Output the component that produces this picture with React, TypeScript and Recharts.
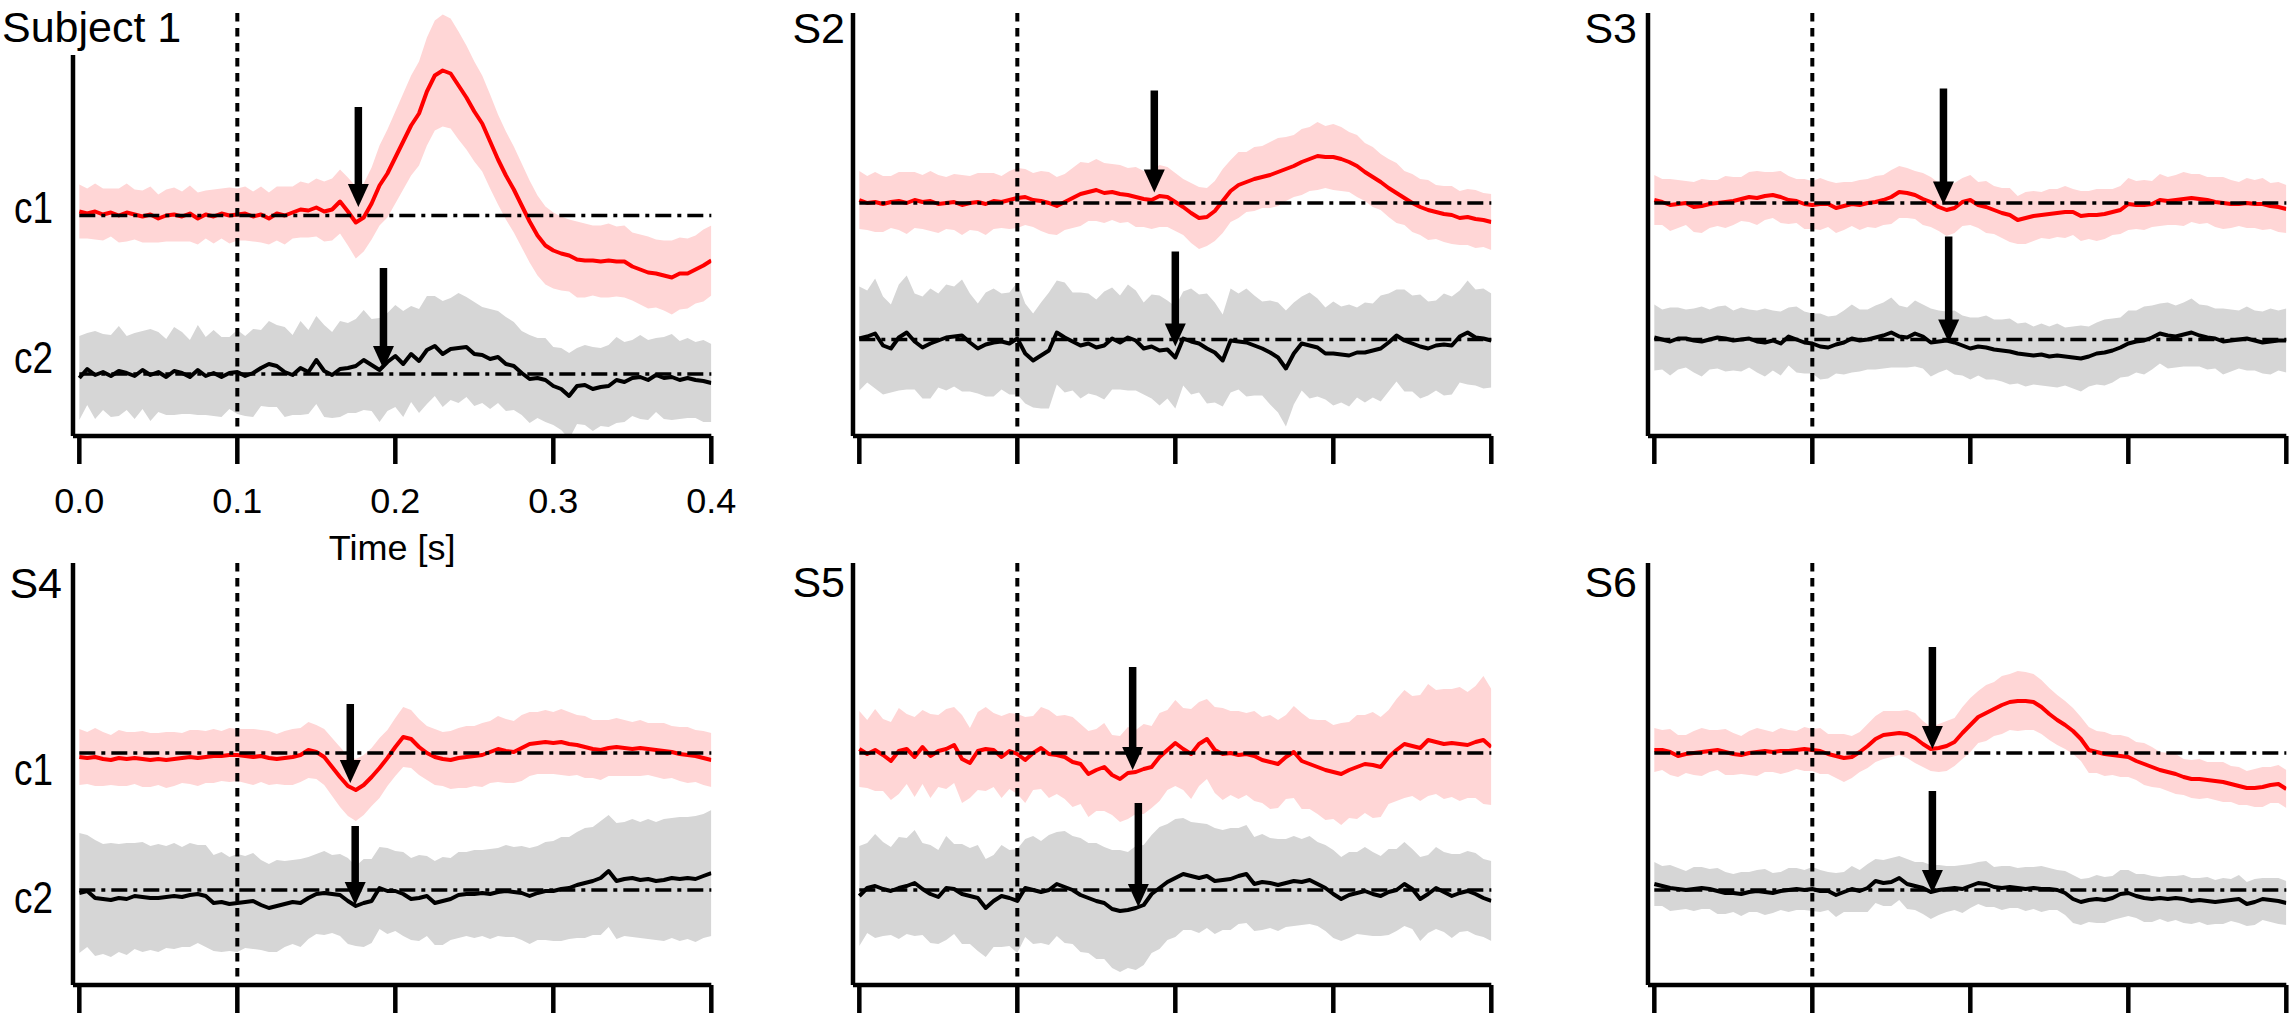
import React from "react";
import { ComposedChart, Area, Line, XAxis, YAxis, ReferenceLine } from "recharts";

const FONT = '"Liberation Sans", Arial, Helvetica, sans-serif';

// time grid: 0 .. 0.4 s, one sample every 5 ms
const STEP = 0.005;
const TIME_TICKS = [0, 0.1, 0.2, 0.3, 0.4];
const X_DOMAIN = [-0.004, 0.4];
const STIM_ONSET = 0.1;

// deviations (a.u.) of each mean trace from its own baseline, and the half-width of its shaded band
const s1c1 = [
  4, 2, 4, 1, 3, 0, 3, 1, -1, 1,
  -3, 0, 1, -1, 2, -3, 1, -1, 2, 0,
  1, 2, -1, 1, -3, 2, 0, 3, 6, 5,
  8, 4, 6, 14, 4, -7, -2, 12, 30, 42,
  58, 74, 90, 102, 124, 140, 145, 142, 130, 118,
  104, 92, 74, 56, 40, 26, 10, -6, -20, -30,
  -35, -38, -40, -44, -45, -45, -46, -45, -46, -46,
  -51, -54, -57, -58, -60, -62, -58, -58, -54, -50,
  -45,
];
const s1c1sd = [
  27, 25, 28, 26, 24, 27, 29, 25, 26, 28,
  24, 26, 27, 25, 28, 26, 24, 27, 25, 28,
  26, 27, 25, 28, 26, 27, 29, 26, 28, 27,
  29, 30, 31, 32, 34, 36, 34, 36, 40, 44,
  46, 48, 50, 52, 54, 55, 56, 55, 54, 52,
  50, 48, 47, 45, 44, 43, 42, 41, 40, 39,
  38, 37, 36, 38, 37, 35, 36, 37, 35, 36,
  34, 35, 36, 34, 35, 37, 36, 35, 34, 36,
  35,
];
const s1c2 = [
  -4, 5, -1, 2, -2, 3, 1, -2, 4, -1,
  2, -3, 3, 1, -3, 4, -2, 1, -3, 1,
  2, -2, 1, 6, 10, 8, 2, -1, 6, 2,
  14, 3, -1, 5, 6, 8, 14, 9, 4, 12,
  18, 10, 20, 13, 24, 28, 20, 25, 26, 27,
  20, 19, 15, 17, 10, 8, 1, -5, -4, -6,
  -12, -15, -22, -12, -11, -15, -13, -12, -6, -8,
  -4, -3, -6, -1, -4, -3, -6, -4, -6, -7,
  -9,
];
const s1c2sd = [
  42, 36, 44, 38, 41, 45, 37, 43, 39, 46,
  40, 38, 44, 41, 37, 45, 39, 43, 40, 36,
  42, 40, 44, 38, 43, 41, 45, 40, 47, 42,
  44, 46, 43, 48, 45, 47, 50, 46, 52, 49,
  51, 53, 48, 52, 54, 50, 53, 51, 55, 50,
  52, 48, 50, 46, 47, 44, 42, 44, 40, 42,
  39, 41, 43, 38, 40, 42, 39, 41, 43, 40,
  38, 42, 40, 37, 41, 43, 39, 40, 38, 41,
  39,
];

const s2c1 = [
  3, 0, 1, -1, 1, 2, 0, 3, 1, 2,
  -1, 0, 1, -2, 0, 1, -1, 2, 1, 3,
  5, 6, 3, 2, 0, -3, 1, 5, 9, 11,
  13, 10, 11, 9, 8, 6, 4, 3, 7, 6,
  1, -4, -10, -15, -14, -8, 2, 12, 18, 21,
  24, 26, 28, 31, 34, 37, 41, 44, 47, 46,
  46, 44, 41, 37, 31, 26, 21, 15, 10, 5,
  0, -4, -7, -9, -11, -12, -15, -14, -16, -17,
  -19,
];
const s2c1sd = [
  29, 27, 30, 28, 26, 29, 31, 28, 27, 30,
  29, 26, 28, 30, 27, 29, 31, 28, 26, 29,
  30, 28, 27, 30, 31, 29, 28, 30, 32, 29,
  31, 30, 28, 29, 27, 30, 28, 29, 31, 30,
  29, 28, 30, 31, 29, 30, 32, 31, 33, 30,
  32, 31, 33, 34, 32, 31, 33, 32, 34, 31,
  33, 32, 30, 31, 29, 30, 28, 29, 30, 27,
  29, 28, 30, 27, 28, 29, 27, 28, 29, 27,
  28,
];
const s2c2 = [
  1, 3, 6, -6, -9, 2, 7, -2, -8, -4,
  -1, 2, 3, 4, -3, -9, -5, -3, -2, -4,
  1, -14, -21, -16, -11, 7, 2, -2, -6, -4,
  -8, -6, 1, -3, 2, -1, -9, -7, -11, -10,
  -18, 1, -2, -4, -9, -13, -21, -1, -2, -3,
  -6, -9, -13, -18, -29, -14, -4, -6, -8, -14,
  -14, -15, -16, -13, -13, -11, -9, -3, 4, -1,
  -4, -7, -9, -6, -5, -6, 3, 7, 2, 1,
  -1,
];
const s2c2sd = [
  52, 46, 55, 49, 44, 53, 57, 48, 51, 55,
  47, 53, 50, 56, 49, 45, 52, 54, 48, 51,
  56, 50, 47, 53, 58, 52, 55, 49, 53, 50,
  48, 54, 51, 47, 53, 50, 46, 52, 55, 49,
  51, 47, 53, 49, 55, 50, 46, 52, 48, 54,
  50, 47, 52, 55, 58, 51, 47, 53, 49, 46,
  52, 48, 51, 45, 50, 47, 53, 49, 46, 51,
  48, 52, 47, 45, 51, 49, 46, 52, 48, 50,
  47,
];

const s3c1 = [
  3, 1, -2, -1, 0, -4, -3, -1, 0, 1,
  2, 4, 6, 5, 7, 8, 6, 3, 2, -1,
  -2, -1, -1, -5, -3, -1, -2, 0, 1, 3,
  6, 11, 10, 8, 4, 1, -4, -7, -5, 1,
  3, -2, -4, -7, -10, -12, -17, -15, -13, -12,
  -11, -10, -9, -9, -13, -12, -12, -11, -9, -7,
  -1, -2, -2, -1, 3, 2, 3, 4, 5, 4,
  3, 1, 0, -1, -1, 0, -1, -1, -3, -4,
  -6,
];
const s3c1sd = [
  25, 23, 26, 24, 22, 25, 27, 24, 23, 26,
  24, 22, 25, 27, 24, 23, 26, 24, 22, 25,
  24, 26, 23, 25, 24, 22, 25, 24, 26, 25,
  27, 26, 25, 24, 26, 25, 24, 26, 25, 24,
  25, 23, 26, 24, 25, 27, 24, 26, 25, 23,
  25, 24, 26, 23, 25, 24, 26, 25, 23, 24,
  26, 24, 25, 23, 26, 24, 25, 27, 24, 25,
  23, 25, 26, 24, 22, 25, 24, 26, 23, 25,
  24,
];
const s3c2 = [
  2, 0, -2, 1, 1, -1, -2, 0, 2, 1,
  -1, 0, 1, -2, -3, -1, -4, 3, 0, -3,
  -4, -7, -8, -5, -3, 1, -1, 0, 2, 4,
  7, 3, 2, 6, 3, -3, -2, -1, -3, -6,
  -9, -7, -8, -10, -11, -12, -14, -15, -16, -15,
  -17, -16, -17, -18, -19, -17, -14, -13, -11, -8,
  -4, -2, -1, 2, 6, 4, 3, 5, 7, 4,
  2, 1, -2, -1, 0, 1, -1, -3, -2, -1,
  -1,
];
const s3c2sd = [
  33, 30, 34, 31, 29, 32, 35, 30, 31, 33,
  30, 32, 29, 31, 34, 30, 32, 29, 33, 31,
  30, 33, 31, 29, 32, 34, 31, 30, 32, 33,
  35, 31, 30, 33, 32, 34, 31, 29, 32, 30,
  31, 29, 32, 30, 31, 33, 30, 32, 29, 31,
  30, 32, 29, 31, 33, 30, 31, 33, 32, 30,
  33, 31, 34, 32, 30, 33, 31, 32, 34, 31,
  32, 30, 33, 31, 29, 32, 30, 31, 33, 30,
  32,
];

const s4c1 = [
  -4, -5, -4, -6, -7, -5, -6, -5, -6, -7,
  -6, -7, -6, -5, -4, -5, -4, -3, -3, -2,
  -2, -3, -4, -3, -5, -6, -5, -4, -2, 3,
  1, -4, -14, -24, -33, -37, -32, -24, -15, -5,
  6, 16, 14, 6, 0, -4, -6, -7, -5, -4,
  -3, -2, 1, 4, 2, 1, 5, 9, 10, 11,
  10, 11, 9, 8, 6, 4, 3, 5, 6, 5,
  4, 5, 4, 3, 2, 1, -1, -2, -3, -5,
  -7,
];
const s4c1sd = [
  28, 26, 29, 27, 25, 28, 27, 26, 28, 27,
  26, 28, 27, 25, 27, 28, 26, 27, 25, 27,
  26, 27, 28, 26, 27, 25, 27, 28, 27, 28,
  27, 28, 29, 30, 30, 31, 30, 29, 30, 28,
  29, 30, 29, 28, 27, 28, 27, 29, 30, 31,
  30, 32, 31, 33, 32, 31, 33, 32, 31, 32,
  31, 33, 32, 30, 31, 29, 30, 28, 29, 28,
  27, 28, 26, 27, 28, 26, 27, 28, 26, 27,
  27,
];
const s4c2 = [
  -3, -1, -8, -9, -10, -8, -9, -6, -7, -8,
  -8, -7, -6, -7, -5, -4, -6, -13, -12, -14,
  -13, -12, -11, -15, -18, -16, -14, -12, -13, -8,
  -4, -3, -4, -5, -11, -16, -13, -11, 2, -1,
  -1, -4, -9, -8, -6, -13, -11, -9, -5, -4,
  -4, -3, -4, -2, -1, -2, -3, -6, -3, -1,
  -1, 1, 2, 5, 7, 9, 12, 19, 9, 11,
  12, 10, 11, 9, 10, 12, 11, 12, 11, 14,
  17,
];
const s4c2sd = [
  60, 56, 58, 55, 57, 54, 56, 53, 55, 52,
  54, 51, 53, 50, 52, 49, 51, 48, 50, 47,
  49, 46, 48, 45, 44, 46, 43, 42, 44, 41,
  40, 42, 39, 41, 43, 40, 44, 42, 41, 43,
  40, 42, 41, 43, 40, 42, 44, 41, 43, 42,
  44, 43, 45, 44, 46, 45, 47, 48, 47, 49,
  50, 52, 51, 53, 55, 54, 57, 56, 58, 57,
  59, 58, 60, 59, 61, 60, 62, 61, 63, 62,
  63,
];

const s5c1 = [
  4, -1, 3, -2, -8, 2, 4, -4, 6, -3,
  2, 4, 8, -6, -10, 2, 4, 3, -4, 2,
  -1, -7, 0, 5, -1, -2, -4, -9, -11, -21,
  -17, -14, -22, -26, -20, -19, -16, -14, -4, 3,
  10, 4, -1, 9, 14, 3, -1, 0, -2, -1,
  -3, -7, -9, -11, -4, 1, -8, -11, -14, -17,
  -19, -21, -17, -14, -11, -12, -14, -4, 3, 9,
  7, 5, 13, 11, 9, 10, 9, 8, 11, 13,
  6,
];
const s5c1sd = [
  38, 34, 41, 36, 39, 43, 35, 40, 37, 42,
  36, 40, 38, 44, 35, 39, 42, 37, 41, 38,
  40, 43, 37, 41, 44, 39, 42, 45, 40, 43,
  41, 44, 40, 43, 46, 42, 45, 41, 44, 40,
  43, 41, 45, 42, 40, 43, 46, 42, 44, 41,
  45, 43, 47, 44, 42, 46, 48, 45, 47, 50,
  47, 51, 48, 52, 49, 53, 50, 47, 51, 54,
  50, 53, 56, 52, 55, 54, 57, 53, 56, 64,
  58,
];
const s5c2 = [
  -6, 2, 4, 1, -1, 2, 4, 7, 1, -4,
  -7, 2, 1, -4, -6, -8, -18, -11, -6, -8,
  -11, 2, 0, -2, 0, 6, 3, 0, -5, -8,
  -11, -13, -19, -21, -20, -18, -15, -4, 2, 8,
  12, 16, 14, 12, 14, 9, 10, 11, 14, 16,
  6, 8, 7, 5, 7, 9, 8, 10, 6, 2,
  -4, -9, -5, -3, -1, -4, -6, -2, 0, 6,
  1, -9, -4, 2, -2, -6, -3, -1, -4, -8,
  -11,
];
const s5c2sd = [
  50, 45, 52, 47, 44, 51, 48, 53, 46, 49,
  47, 52, 45, 50, 48, 53, 49, 46, 51, 48,
  52, 49, 54, 51, 55, 52, 56, 54, 57, 55,
  58, 56, 59, 61, 58, 62, 60, 59, 61, 58,
  59, 56, 54, 55, 52, 53, 50, 51, 48, 49,
  47, 48, 45, 46, 44, 45, 43, 44, 42, 43,
  44, 42, 43, 41, 44, 42, 40, 43, 41, 42,
  40, 42, 39, 41, 40, 42, 39, 40, 41, 39,
  40,
];

const s6c1 = [
  3, 3, 1, -3, -1, 0, 1, 2, 3, 1,
  -1, -2, 0, 1, 2, 1, 2, 2, 3, 4,
  3, 2, -1, -3, -5, -4, 1, 7, 14, 18,
  19, 20, 19, 15, 9, 4, 5, 7, 11, 20,
  28, 36, 40, 44, 48, 51, 52, 52, 51, 46,
  39, 33, 28, 22, 14, 3, 1, -1, -2, -3,
  -4, -8, -11, -14, -17, -19, -21, -24, -26, -26,
  -27, -28, -29, -31, -33, -35, -35, -34, -32, -31,
  -36,
];
const s6c1sd = [
  22, 20, 23, 21, 19, 22, 24, 21, 20, 23,
  21, 19, 22, 24, 21, 20, 23, 21, 19, 22,
  21, 23, 20, 22, 24, 21, 20, 22, 23, 24,
  23, 22, 24, 25, 23, 22, 24, 25, 24, 26,
  27, 26, 28, 27, 29, 28, 30, 29, 28, 27,
  26, 25, 24, 23, 22, 23, 21, 22, 20, 21,
  20, 19, 21, 20, 18, 19, 20, 18, 19, 20,
  18, 19, 20, 18, 19, 17, 19, 20, 18, 19,
  19,
];
const s6c2 = [
  6, 4, 2, 1, 0, 1, 2, 1, -1, -3,
  -3, -4, -2, -1, -2, -3, -1, 0, 1, 0,
  1, -1, -1, -5, -2, 1, -1, 2, 9, 7,
  8, 12, 6, 4, 2, -2, 0, 1, 2, 1,
  4, 7, 6, 3, 2, 3, 2, 1, 2, 1,
  1, 0, -3, -9, -12, -10, -9, -10, -8, -4,
  -3, -6, -8, -9, -8, -9, -8, -9, -11, -10,
  -11, -12, -11, -10, -9, -14, -12, -9, -10, -11,
  -13,
];
const s6c2sd = [
  22, 20, 23, 21, 19, 22, 21, 20, 23, 21,
  19, 22, 20, 21, 23, 20, 19, 22, 21, 20,
  22, 21, 19, 22, 20, 23, 21, 24, 22, 23,
  24, 22, 25, 24, 26, 27, 25, 23, 22, 24,
  22, 21, 23, 20, 22, 21, 20, 22, 21, 23,
  21, 20, 22, 24, 23, 22, 24, 23, 22, 24,
  23, 22, 24, 23, 21, 23, 22, 24, 23, 22,
  24, 22, 23, 21, 24, 22, 23, 21, 22, 23,
  22,
];

// detected onsets: [time s, value at arrow tip, value at arrow tail] for c1 then c2
const s1Arrows = [[0.1766, 167, 267], [0.1925, 5, 106]];
const s2Arrows = [[0.1867, 147, 249], [0.2, -7, 88]];
const s3Arrows = [[0.183, 135, 251], [0.1863, -3, 103]];
const s4Arrows = [[0.1715, 107, 186], [0.1746, -15, 64]];
const s5Arrows = [[0.173, 120, 223], [0.1766, -17, 87]];
const s6Arrows = [[0.176, 141, 243], [0.176, -3, 99]];

const SUBJECTS = [
  { title: "Subject 1", c1: s1c1, c1sd: s1c1sd, c2: s1c2, c2sd: s1c2sd, arrows: s1Arrows },
  { title: "S2", c1: s2c1, c1sd: s2c1sd, c2: s2c2, c2sd: s2c2sd, arrows: s2Arrows },
  { title: "S3", c1: s3c1, c1sd: s3c1sd, c2: s3c2, c2sd: s3c2sd, arrows: s3Arrows },
  { title: "S4", c1: s4c1, c1sd: s4c1sd, c2: s4c2, c2sd: s4c2sd, arrows: s4Arrows },
  { title: "S5", c1: s5c1, c1sd: s5c1sd, c2: s5c2, c2sd: s5c2sd, arrows: s5Arrows },
  { title: "S6", c1: s6c1, c1sd: s6c1sd, c2: s6c2, c2sd: s6c2sd, arrows: s6Arrows },
];

// ---- layout ----
const PX_PER_S = 1580;
const COL_X0 = [79.3, 859, 1654.5]; // page x of t = 0
const ROWS = [
  { top: 13, bottom: 436 },
  { top: 563, bottom: 985 },
];
const LAYOUT = [
  { col: 0, row: 0, offset: 158.5, yDomain: [-62, 361], axisTop: 319, labels: { c1: 7.5, c2: -1 }, timeAxis: true,
    title: { x: 2, baseline: 42, align: "left" } },
  { col: 1, row: 0, offset: 136.5, yDomain: [-96.5, 326.5], title: { x: 845, baseline: 43, align: "right" } },
  { col: 2, row: 0, offset: 136.5, yDomain: [-96.5, 326.5], title: { x: 1637, baseline: 43.5, align: "right" } },
  { col: 0, row: 1, offset: 137, yDomain: [-95, 327], labels: { c1: 32, c2: 23 }, title: { x: 62, baseline: 598, align: "right" } },
  { col: 1, row: 1, offset: 137, yDomain: [-95, 327], title: { x: 845, baseline: 597, align: "right" } },
  { col: 2, row: 1, offset: 137, yDomain: [-95, 327], title: { x: 1637, baseline: 597, align: "right" } },
];

const RED = "#ff0000";
const RED_BAND = "#ffd6d6";
const GREY_BAND = "#d6d6d6";
const LEFT_SPACE = 70;
const TOP_SPACE = 10;
const RIGHT_SPACE = 30;

function buildRows(s: any, offset: number) {
  return s.c1.map((v: number, i: number) => {
    const m1 = offset + v;
    const m2 = s.c2[i];
    return {
      t: +(i * STEP).toFixed(3),
      c1: m1,
      c1band: [m1 - s.c1sd[i], m1 + s.c1sd[i]],
      c2: m2,
      c2band: [m2 - s.c2sd[i], m2 + s.c2sd[i]],
    };
  });
}

const ArrowShape = (props: any) => {
  const { x1, y1, y2 } = props;
  const top = Math.min(y1, y2);
  const tip = Math.max(y1, y2);
  const head = 23;
  const half = 10.5;
  return (
    <g>
      <rect x={x1 - 3.75} y={top} width={7.5} height={tip - top - head + 1} fill="#000" />
      <polygon points={`${x1 - half},${tip - head} ${x1 + half},${tip - head} ${x1},${tip}`} fill="#000" />
    </g>
  );
};

function Panel({ s, lay }: { s: any; lay: any }) {
  const rowBox = ROWS[lay.row];
  const plotLeft = COL_X0[lay.col] + X_DOMAIN[0] * PX_PER_S;
  const plotW = (X_DOMAIN[1] - X_DOMAIN[0]) * PX_PER_S;
  const plotH = rowBox.bottom - rowBox.top;
  const axisH = lay.timeAxis ? 140 : 40;
  const [yMin, yMax] = lay.yDomain;
  const data = buildRows(s, lay.offset);
  const axisStroke = { stroke: "#000", strokeWidth: 4.5 };

  const labelTick = (props: any) => {
    const { x, y, payload } = props;
    const isC2 = payload.value === 0;
    return (
      <text
        x={x}
        y={y + (isC2 ? lay.labels.c2 : lay.labels.c1)}
        textAnchor="end"
        fontSize={45}
        fontFamily={FONT}
        fill="#000"
        textLength={39}
        lengthAdjust="spacingAndGlyphs"
      >
        {isC2 ? "c2" : "c1"}
      </text>
    );
  };

  return (
    <div style={{ position: "absolute", left: plotLeft - LEFT_SPACE, top: rowBox.top - TOP_SPACE }}>
      <ComposedChart
        width={LEFT_SPACE + plotW + RIGHT_SPACE}
        height={TOP_SPACE + plotH + axisH}
        data={data}
        margin={{ top: TOP_SPACE, right: RIGHT_SPACE, bottom: 0, left: LEFT_SPACE - 60 }}
      >
        <XAxis
          dataKey="t"
          type="number"
          domain={X_DOMAIN}
          ticks={TIME_TICKS}
          interval={0}
          allowDataOverflow
          height={axisH}
          axisLine={axisStroke}
          tickLine={axisStroke}
          tickSize={28}
          tickMargin={23}
          tick={{ fontSize: 36, fill: "#000", fontFamily: FONT }}
          tickFormatter={(v: number) => (lay.timeAxis ? v.toFixed(1) : "")}
          label={
            lay.timeAxis
              ? { value: "Time [s]", position: "insideBottom", offset: 16, fill: "#000", fontSize: 36, fontFamily: FONT }
              : undefined
          }
        />
        <YAxis
          type="number"
          domain={lay.yDomain}
          allowDataOverflow
          width={60}
          axisLine={false}
          tickLine={false}
          tickSize={0}
          tickMargin={20}
          ticks={lay.labels ? [0, lay.offset] : []}
          tick={lay.labels ? labelTick : false}
        />
        <Area type="linear" dataKey="c2band" stroke="none" fill={GREY_BAND} fillOpacity={1} isAnimationActive={false} activeDot={false} />
        <Area type="linear" dataKey="c1band" stroke="none" fill={RED_BAND} fillOpacity={1} isAnimationActive={false} activeDot={false} />
        <Line type="linear" dataKey="c2" stroke="#000" strokeWidth={4} strokeLinejoin="round" dot={false} activeDot={false} isAnimationActive={false} />
        <Line type="linear" dataKey="c1" stroke={RED} strokeWidth={4} strokeLinejoin="round" dot={false} activeDot={false} isAnimationActive={false} />
        <ReferenceLine segment={[{ x: 0, y: lay.offset }, { x: 0.4, y: lay.offset }]} stroke="#000" strokeWidth={3.5} strokeDasharray="16 6 4 6" />
        <ReferenceLine segment={[{ x: 0, y: 0 }, { x: 0.4, y: 0 }]} stroke="#000" strokeWidth={3.5} strokeDasharray="16 6 4 6" />
        <ReferenceLine segment={[{ x: STIM_ONSET, y: yMax }, { x: STIM_ONSET, y: yMin + 6 }]} stroke="#000" strokeWidth={4} strokeDasharray="8.5 6.5" />
        <ReferenceLine segment={[{ x: X_DOMAIN[0], y: lay.axisTop ?? yMax }, { x: X_DOMAIN[0], y: yMin }]} stroke="#000" strokeWidth={4.5} />
        {s.arrows.map((a: number[], i: number) => (
          <ReferenceLine key={i} segment={[{ x: a[0], y: a[2] }, { x: a[0], y: a[1] }]} shape={ArrowShape} />
        ))}
      </ComposedChart>
    </div>
  );
}

export default function App() {
  return (
    <div style={{ position: "absolute", left: 0, top: 0, width: 2290, height: 1015, overflow: "hidden", background: "#fff", fontFamily: FONT }}>
      {SUBJECTS.map((s, i) => (
        <Panel key={s.title} s={s} lay={LAYOUT[i]} />
      ))}
      {SUBJECTS.map((s, i) => {
        const t = LAYOUT[i].title;
        return (
          <div
            key={"t" + i}
            style={{
              position: "absolute",
              left: t.x,
              top: t.baseline - 0.8465 * 43,
              fontSize: 43,
              lineHeight: 1,
              whiteSpace: "nowrap",
              color: "#000",
              transform: t.align === "right" ? "translateX(-100%)" : undefined,
            }}
          >
            {s.title}
          </div>
        );
      })}
    </div>
  );
}
